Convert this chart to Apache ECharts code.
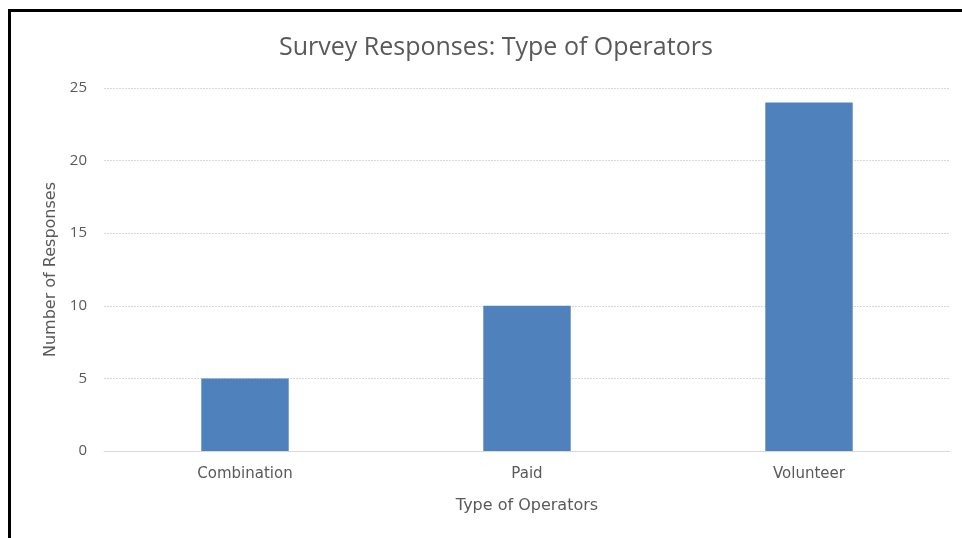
<!DOCTYPE html>
<html>
<head>
<meta charset="utf-8">
<script src="https://cdn.jsdelivr.net/npm/echarts@6/dist/echarts.min.js"></script>
<style>
  html, body { margin: 0; padding: 0; background: #fff; }
  #wrap { position: relative; width: 962px; height: 538px; overflow: hidden; }
  #chart { position: absolute; left: 0; top: 0; width: 962px; height: 538px; }
  #frame { position: absolute; left: 8px; top: 9px; width: 1000px; height: 600px;
           border-left: 3px solid #000; border-top: 3px solid #000; pointer-events: none; }
</style>
</head>
<body>
<div id="wrap">
  <div id="chart"></div>
  <div id="frame"></div>
</div>
<script>
// Operator types and how many survey responses each received
const categories = ['Combination', 'Paid', 'Volunteer'];
const responses = [5, 10, 24];
const yTicks = { min: 0, max: 25, interval: 5 };

const textColor = '#595959';
const gridColor = '#d9d9d9';

const chart = echarts.init(document.getElementById('chart'), null, { renderer: 'canvas' });
chart.setOption({
  animation: false,
  title: {
    text: 'Survey Responses: Type of Operators',
    left: 274,
    top: 30,
    textStyle: { fontFamily: 'Open Sans', fontSize: 25, fontWeight: 'normal', color: textColor }
  },
  grid: { left: 104, right: 12, top: 88, bottom: 87, containLabel: false },
  xAxis: {
    type: 'category',
    data: categories,
    name: 'Type of Operators',
    nameLocation: 'middle',
    nameGap: 47,
    nameTextStyle: { fontFamily: 'DejaVu Sans', fontSize: 16, color: textColor },
    axisLine: { show: true, lineStyle: { color: gridColor, width: 1 } },
    axisTick: { show: false },
    axisLabel: { margin: 16, fontFamily: 'DejaVu Sans', fontSize: 15, color: textColor }
  },
  yAxis: {
    type: 'value',
    min: yTicks.min,
    max: yTicks.max,
    interval: yTicks.interval,
    name: 'Number of Responses',
    nameLocation: 'middle',
    nameGap: 42,
    nameTextStyle: { fontFamily: 'DejaVu Sans', fontSize: 16, color: textColor },
    axisLine: { show: false },
    axisTick: { show: false },
    axisLabel: { margin: 17, fontFamily: 'Open Sans', fontSize: 15, color: textColor },
    splitLine: { show: true, lineStyle: { color: gridColor, width: 1, type: [2, 1] } }
  },
  series: [{
    type: 'bar',
    data: responses,
    barWidth: '31%',
    itemStyle: { color: '#4f81bd' }
  }]
});
</script>
</body>
</html>
